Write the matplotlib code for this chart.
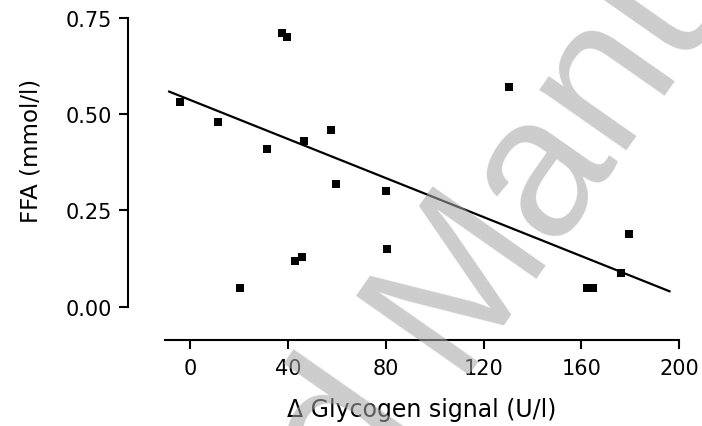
import matplotlib
matplotlib.use("Agg")
import matplotlib.pyplot as plt
import numpy as np

# Data
glycogen = [-4.0, 11.6, 20.6, 31.3, 37.6, 39.8, 42.8, 45.6, 46.6, 57.6,
            59.7, 80.1, 80.4, 130.2, 162.4, 164.7, 176.0, 179.3]
ffa = [0.531, 0.480, 0.049, 0.410, 0.712, 0.701, 0.118, 0.130, 0.430, 0.460,
       0.320, 0.300, 0.150, 0.571, 0.049, 0.049, 0.088, 0.189]
fit_x = [-8.9, 196.4]
fit_y = [0.560, 0.039]
x_ticks = [0, 40, 80, 120, 160, 200]
y_ticks = [0.00, 0.25, 0.50, 0.75]
y_tick_labels = ["0.00", "0.25", "0.50", "0.75"]

plt.rcParams['font.family'] = ['DejaVu Sans']

W, H = 702, 427
fig = plt.figure(figsize=(W / 100, H / 100), dpi=100)
ax = fig.add_axes([128 / W, (H - 340.7) / H, 563.6 / W, 333.2 / H])

ax.plot(fit_x, fit_y, color='black', lw=1.6, solid_capstyle='butt', zorder=2)
ax.plot(glycogen, ffa, linestyle='none', marker='s', ms=5.2, mew=0,
        color='black', zorder=3)

ax.set_xlim(-25.3, 205)
ax.set_ylim(-0.0857, 0.78)
for s in ['top', 'right']:
    ax.spines[s].set_visible(False)
ax.spines['left'].set_bounds(0, 0.75)
ax.spines['bottom'].set_bounds(-10, 200)
for s in ['left', 'bottom']:
    ax.spines[s].set_linewidth(1.5)

ax.set_xticks(x_ticks)
ax.set_yticks(y_ticks)
ax.set_yticklabels(y_tick_labels)
ax.tick_params(direction='out', length=6.5, width=1.5, labelsize=15,
               colors='black')
ax.tick_params(axis='x', pad=7)
ax.tick_params(axis='y', pad=5)

ax.set_ylabel("FFA (mmol/l)", fontsize=16.5)
ax.yaxis.set_label_coords(-0.151, 0.571)
ax.set_xlabel("\u0394 Glycogen signal (U/l)", fontsize=17)
xl = ax.xaxis.label
xl.set_va('baseline')
ax.xaxis.set_label_coords(0.5217, -0.228)

# Watermark
bx, by = 453 / W, (H - 375) / H
wm_kw = dict(fontsize=144, family='Liberation Sans', rotation=55,
             rotation_mode='anchor', va='baseline', color=(0.65, 0.65, 0.65),
             alpha=0.57, zorder=10, transform=fig.transFigure)
fig.text(bx, by, "Accepted ", ha='right', **wm_kw)
fig.text(bx, by, "Manuscript", ha='left', **wm_kw)

fig.savefig("out.png", dpi=100)
